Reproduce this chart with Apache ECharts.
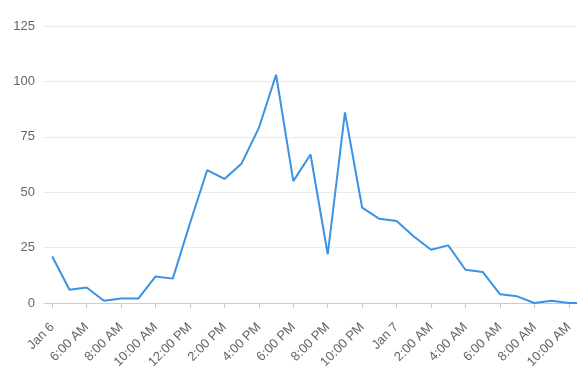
<!DOCTYPE html>
<html>
<head>
<meta charset="utf-8">
<script src="https://cdn.jsdelivr.net/npm/echarts@6/dist/echarts.min.js"></script>
<style>
html,body{margin:0;padding:0;background:#fff;}
#chart{width:586px;height:376px;}
</style>
</head>
<body>
<div id="chart"></div>
<script>
// Hourly values, starting at the "Jan 6" tick
const values = [21, 6, 7, 1, 2, 2, 12, 11, 36, 60, 56, 63, 79, 103, 55, 67, 22, 86, 43, 38, 37, 30, 24, 26, 15, 14, 4, 3, 0, 1, 0, 0];
// Tick labels every 2 hours
const tickLabels = ["Jan 6", "6:00 AM", "8:00 AM", "10:00 AM", "12:00 PM", "2:00 PM", "4:00 PM", "6:00 PM", "8:00 PM", "10:00 PM", "Jan 7", "2:00 AM", "4:00 AM", "6:00 AM", "8:00 AM", "10:00 AM"];
const tickHours = [0, 2, 4, 6, 8, 10, 12, 14, 16, 18, 20, 22, 24, 26, 28, 30];
const yTicks = [0, 25, 50, 75, 100, 125];

const labelMap = {};
tickHours.forEach((h, i) => { labelMap[h] = tickLabels[i]; });

const chart = echarts.init(document.getElementById('chart'), null, {renderer: 'canvas'});
chart.setOption({
  animation: false,
  grid: {left: 44, right: 10, top: 26, bottom: 73},
  xAxis: {
    type: 'value',
    min: -0.48,
    max: 30.42,
    axisLine: {show: true, lineStyle: {color: '#cccccc', width: 1}},
    axisTick: {show: true, length: 5, lineStyle: {color: '#cccccc'}, customValues: tickHours},
    axisLabel: {
      customValues: tickHours,
      rotate: 45,
      margin: 22,
      color: '#666666',
      fontSize: 13,
      fontFamily: 'Liberation Sans, Arial, sans-serif',
      formatter: v => labelMap[Math.round(v)] || ''
    },
    splitLine: {show: false}
  },
  yAxis: {
    type: 'value',
    min: yTicks[0],
    max: yTicks[yTicks.length - 1],
    interval: 25,
    axisLine: {show: false},
    axisTick: {show: false},
    axisLabel: {color: '#666666', fontSize: 13, margin: 9, fontFamily: 'Liberation Sans, Arial, sans-serif'},
    splitLine: {lineStyle: {color: '#ebebeb', width: 1}}
  },
  series: [{
    type: 'line',
    data: values.map((v, i) => [i, v]),
    showSymbol: false,
    clip: true,
    lineStyle: {color: '#3a92e6', width: 2},
    itemStyle: {color: '#3a92e6'}
  }]
});
</script>
</body>
</html>
